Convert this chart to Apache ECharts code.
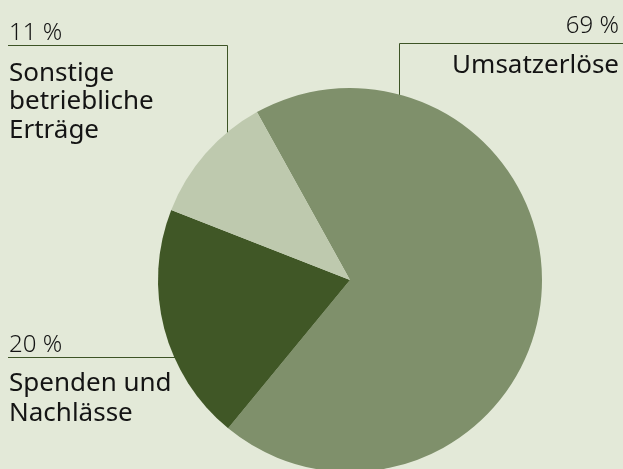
<!DOCTYPE html>
<html>
<head>
<meta charset="utf-8">
<script src="https://cdn.jsdelivr.net/npm/echarts@6/dist/echarts.min.js"></script>
<style>
  html, body { margin: 0; padding: 0; background: #e3e9d8; }
  #chart { width: 623px; height: 469px; }
</style>
</head>
<body>
<div id="chart"></div>
<script>
// Daten
const categories = ['Umsatzerlöse', 'Spenden und\nNachlässe', 'Sonstige\nbetriebliche\nErträge'];
const values = [69, 20, 11];
const colors = ['#7f906b', '#405726', '#bec9ae'];

const chart = echarts.init(document.getElementById('chart'));

const FONT = '"Noto Sans", sans-serif';
const lineColor = '#3d5426';

// Beschriftungen (Prozent + Name) mit Führungslinien
function label(x, y, text, size, align, lh, weight) {
  return {
    type: 'text',
    style: {
      x: x, y: y, text: text,
      font: (weight || 'normal') + ' ' + size + 'px ' + FONT,
      fill: '#141414',
      textAlign: align,
      textVerticalAlign: 'top',
      lineHeight: lh
    }
  };
}
function line(points) {
  return {
    type: 'polyline',
    shape: { points: points },
    style: { stroke: lineColor, lineWidth: 1, fill: null }
  };
}

const option = {
  backgroundColor: '#e3e9d8',
  animation: false,
  series: [{
    type: 'pie',
    center: [350, 280],
    radius: 192,
    startAngle: 119,
    clockwise: true,
    label: { show: false },
    labelLine: { show: false },
    itemStyle: { borderWidth: 0 },
    data: categories.map((c, i) => ({
      name: c,
      value: values[i],
      itemStyle: { color: colors[i] }
    }))
  }],
  graphic: [
    // 11 %
    line([[8, 45.5], [227.5, 45.5], [227.5, 139]]),
    label(9, 19, values[2] + ' %', 24, 'left', 28, 300),
    label(9, 59, categories[2], 26, 'left', 28.5),
    // 69 %
    line([[623, 43.5], [399.5, 43.5], [399.5, 139]]),
    label(619, 12, values[0] + ' %', 24, 'right', 28, 300),
    label(619, 52, categories[0], 26, 'right', 28),
    // 20 %
    line([[8, 357.5], [176, 357.5]]),
    label(9, 331, values[1] + ' %', 24, 'left', 28, 300),
    label(9, 369, categories[1], 26, 'left', 29.5)
  ]
};

chart.setOption(option);
</script>
</body>
</html>
